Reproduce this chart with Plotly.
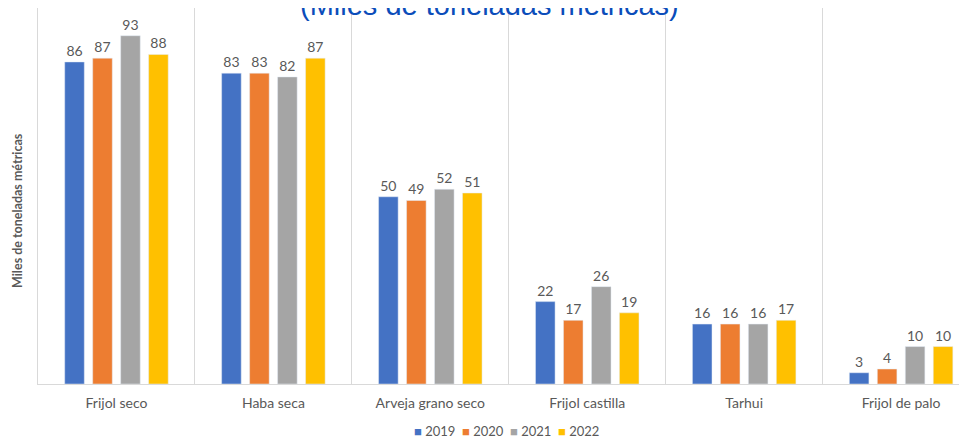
import plotly.graph_objects as go

categories = ["Frijol seco", "Haba seca", "Arveja grano seco", "Frijol castilla", "Tarhui", "Frijol de palo"]
years = ["2019", "2020", "2021", "2022"]
v2019 = [86, 83, 50, 22, 16, 3]
v2020 = [87, 83, 49, 17, 16, 4]
v2021 = [93, 82, 52, 26, 16, 10]
v2022 = [88, 87, 51, 19, 17, 10]
series = [v2019, v2020, v2021, v2022]
colors = ["#4472C4", "#ED7D31", "#A5A5A5", "#FFC000"]

fig = go.Figure()
for name, vals, col in zip(years, series, colors):
    fig.add_trace(go.Bar(
        name=name, x=categories, y=vals, marker_color=col,
        text=[str(v) for v in vals], textposition="outside",
        textfont=dict(color="#595959", size=14, family="Lato"),
        cliponaxis=False, showlegend=False,
    ))

legend_text = "&nbsp;&nbsp;".join(
    f"<span style='color:{c}'>■</span> {y}" for y, c in zip(years, colors)
)

fig.update_layout(
    width=959, height=431,
    margin=dict(l=30, r=0, t=0, b=55),
    paper_bgcolor="white", plot_bgcolor="white",
    barmode="group", bargap=0.287, bargroupgap=0.3,
    font=dict(family="Lato", color="#595959"),
    xaxis=dict(type="category", range=[-0.5, 5.42], tickson="boundaries",
               showgrid=True, gridcolor="#D9D9D9", gridwidth=1,
               showline=True, linecolor="#D9D9D9", ticks="",
               ticklabelstandoff=6,
               tickfont=dict(size=14, color="#595959")),
    yaxis=dict(range=[0, 100.4], showgrid=False, showticklabels=False, zeroline=False,
               showline=True, linecolor="#D9D9D9"),
    annotations=[
        dict(text="(Miles de toneladas métricas)", xref="paper", yref="paper",
             x=0.486, y=0.96, xanchor="center", yanchor="bottom", showarrow=False,
             font=dict(family="Liberation Sans", size=29, color="#0B4DBA")),
        dict(text="<b>Miles de toneladas métricas</b>", xref="paper", yref="paper",
             x=-0.0226, y=0.46, xanchor="center", yanchor="middle", textangle=-90,
             showarrow=False, font=dict(family="Lato", size=12.5, color="#595959")),
        dict(text=legend_text, xref="paper", yref="paper",
             x=0.504, y=-0.125, xanchor="center", yanchor="middle", showarrow=False,
             font=dict(family="Lato", size=13, color="#595959")),
    ],
)

fig.write_html("out.html")
